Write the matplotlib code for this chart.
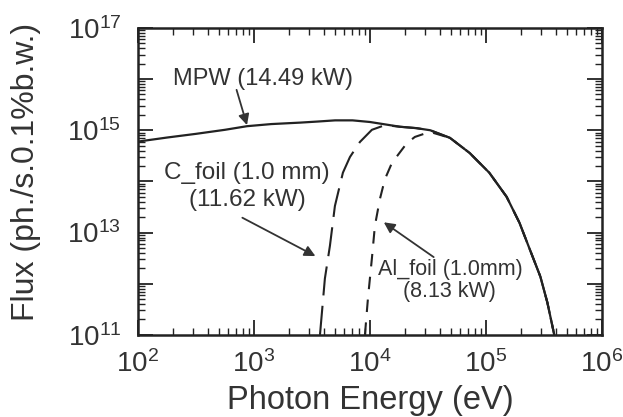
import numpy as np
import matplotlib
matplotlib.use('Agg')
import matplotlib.pyplot as plt
from matplotlib.ticker import LogLocator, FixedLocator, FuncFormatter, NullFormatter

plt.rcParams['font.family'] = ['Liberation Sans', 'DejaVu Sans']
plt.rcParams['mathtext.fontset'] = 'custom'
plt.rcParams['mathtext.rm'] = 'Liberation Sans'
plt.rcParams['mathtext.it'] = 'Liberation Sans:italic'
plt.rcParams['mathtext.bf'] = 'Liberation Sans:bold'

# MPW spectrum (eV, ph./s.0.1%b.w.)
mpw_energy = [100, 178, 316, 562, 871, 1410, 2510, 3550, 5010, 7080, 10000, 18200, 25100, 33100,
              49000, 72400, 107000, 151000, 195000, 240000, 295000, 339000, 389000]
mpw_flux = [6.0e14, 7.2e14, 8.5e14, 1.02e15, 1.2e15, 1.32e15, 1.41e15, 1.48e15, 1.56e15, 1.56e15,
            1.45e15, 1.17e15, 1.1e15, 1.0e15, 7.1e14, 3.6e14, 1.48e14, 5.0e13, 1.55e13, 4.6e12,
            1.38e12, 4.3e11, 1.0e11]

# through 1.0 mm carbon foil
c_energy = [3710, 4090, 4520, 4990, 5850, 6730, 8200, 10400, 13500, 18200, 25100, 33100,
            49000, 72400, 107000, 151000, 195000, 240000, 295000, 339000, 389000]
c_flux = [1.0e11, 1.26e12, 5.5e12, 3.3e13, 1.48e14, 3.0e14, 5.9e14, 1.02e15, 1.26e15, 1.17e15,
          1.1e15, 1.0e15, 7.1e14, 3.6e14, 1.48e14, 5.0e13, 1.55e13, 4.6e12, 1.38e12, 4.3e11, 1.0e11]

# through 1.0 mm aluminium foil
al_energy = [9060, 9620, 10400, 11040, 12190, 13460, 15490, 20840, 24430, 32900,
             49000, 72400, 107000, 151000, 195000, 240000, 295000, 339000, 389000]
al_flux = [1.0e11, 5.2e11, 3.1e12, 1.35e13, 4.5e13, 1.1e14, 2.3e14, 5.6e14, 7.4e14, 9.3e14,
           7.1e14, 3.6e14, 1.48e14, 5.0e13, 1.55e13, 4.6e12, 1.38e12, 4.3e11, 1.0e11]

fig = plt.figure(figsize=(6.23, 4.17), dpi=100)
ax = fig.add_axes([0.2215, 0.197, 0.7445, 0.736])

ax.plot(mpw_energy, mpw_flux, color='#222222', lw=1.6)
ax.plot(c_energy, c_flux, color='#222222', lw=1.5, dashes=(14, 5))
ax.plot(al_energy, al_flux, color='#222222', lw=1.5, dashes=(6, 5))

ax.set_xscale('log')
ax.set_yscale('log')
ax.set_xlim(1e2, 1e6)
ax.set_ylim(1e11, 1e17)

ax.xaxis.set_major_locator(FixedLocator([1e2, 1e3, 1e4, 1e5, 1e6]))
ax.xaxis.set_minor_locator(LogLocator(base=10, subs=np.arange(2, 10), numticks=20))
ax.yaxis.set_major_locator(FixedLocator([10.0 ** k for k in range(11, 18)]))
ax.yaxis.set_minor_locator(LogLocator(base=10, subs=np.arange(2, 10), numticks=20))


def xfmt(v, pos):
    return r'$10^{%d}$' % round(np.log10(v))


def yfmt(v, pos):
    k = round(np.log10(v))
    return r'$10^{%d}$' % k if k % 2 == 1 else ''


ax.xaxis.set_major_formatter(FuncFormatter(xfmt))
ax.yaxis.set_major_formatter(FuncFormatter(yfmt))
ax.xaxis.set_minor_formatter(NullFormatter())
ax.yaxis.set_minor_formatter(NullFormatter())

ax.tick_params(which='both', direction='in', top=True, right=True, colors='#222222')
ax.tick_params(which='major', length=11, width=1.3, labelsize=20, labelcolor='#333333')
ax.tick_params(which='minor', length=5, width=1.0)
ax.tick_params(axis='x', which='major', pad=11)
ax.tick_params(axis='y', which='major', pad=12)
for s in ax.spines.values():
    s.set_linewidth(1.8)
    s.set_color('#222222')

ax.set_xlabel('Photon Energy (eV)', fontsize=23.5, color='#333333')
ax.set_ylabel('Flux (ph./s.0.1%b.w.)', fontsize=23, color='#333333')
ax.xaxis.set_label_coords(0.5, -0.165)
ax.yaxis.set_label_coords(-0.21, 0.53)

arrow = dict(arrowstyle='-|>', color='#333333', lw=1.3, mutation_scale=16, shrinkA=0, shrinkB=0)

ax.text(10 ** 3.08, 10 ** 16.0, 'MPW (14.49 kW)', fontsize=17, ha='center', va='center', color='#333333')
ax.annotate('', xy=(10 ** 2.94, 10 ** 15.1), xytext=(10 ** 2.85, 10 ** 15.79), arrowprops=arrow)

ax.text(10 ** 2.94, 10 ** 13.9, 'C_foil (1.0 mm)\n(11.62 kW)', fontsize=17.5, ha='center', va='center',
        linespacing=1.3, color='#333333')
ax.annotate('', xy=(10 ** 3.53, 10 ** 12.54), xytext=(10 ** 2.9, 10 ** 13.29), arrowprops=arrow)

ax.text(10 ** 4.69, 10 ** 12.06, 'Al_foil (1.0mm)\n(8.13 kW)', fontsize=15.5, ha='center', va='center',
        linespacing=1.05, color='#333333')
ax.annotate('', xy=(10 ** 4.12, 10 ** 13.2), xytext=(10 ** 4.55, 10 ** 12.52), arrowprops=arrow)

fig.savefig('out.png', dpi=100)
